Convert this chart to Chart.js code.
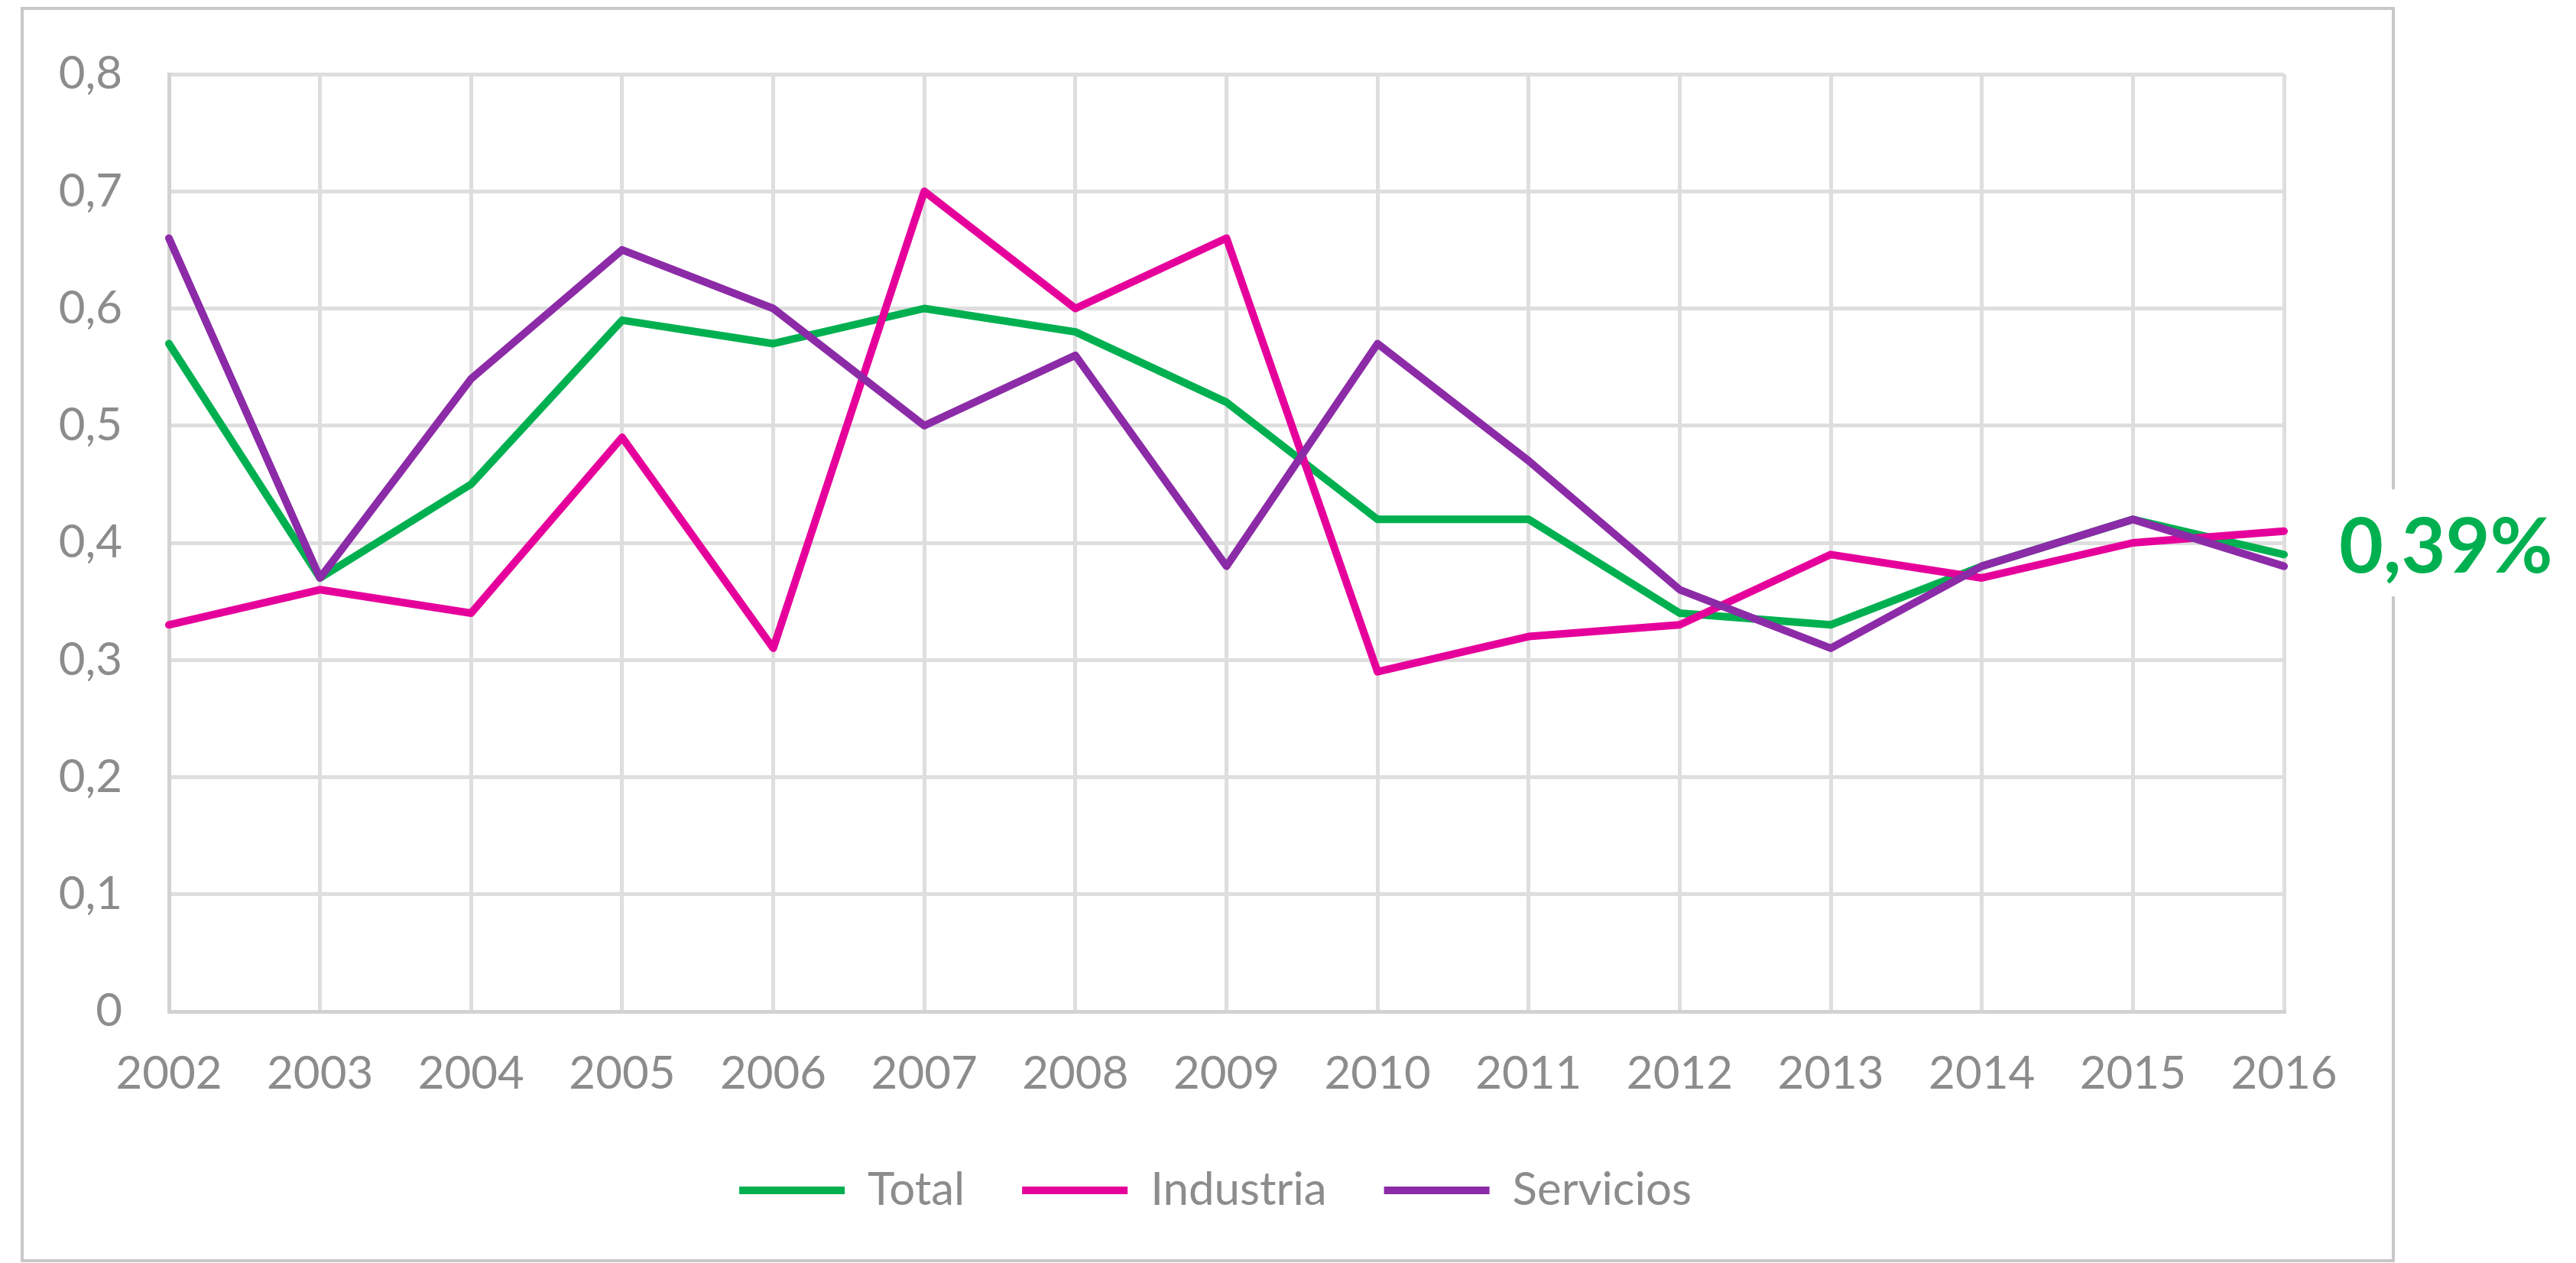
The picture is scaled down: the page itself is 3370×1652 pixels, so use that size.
<!DOCTYPE html>
<html lang="es">
<head>
<meta charset="utf-8">
<title>Total, Industria, Servicios 2002-2016</title>
<script src="https://cdn.jsdelivr.net/npm/chart.js"></script>
<style>
  html, body { margin: 0; padding: 0; background: #fff; }
  #wrap { position: relative; width: 3370px; height: 1652px; }
  #frame {
    position: absolute; left: 27px; top: 9px; width: 3106px; height: 1642px;
    box-sizing: border-box; border: 4px solid #c8c8c8; pointer-events: none;
  }
  #lastValue {
    position: absolute; left: 3048px; top: 640px; height: 140px; padding: 0 20px 0 12px;
    background: #fff; color: #00b050; font: 700 100px Lato, sans-serif; line-height: 140px;
  }
  canvas { position: absolute; left: 0; top: 0; }
</style>
</head>
<body>
<div id="wrap">
  <div id="frame"></div>
  <canvas id="chart" width="3370" height="1652"></canvas>
  <div id="lastValue"></div>
</div>
<script>
const years = ['2002', '2003', '2004', '2005', '2006', '2007', '2008', '2009', '2010', '2011', '2012', '2013', '2014', '2015', '2016'];
const total = [0.57, 0.37, 0.45, 0.59, 0.57, 0.60, 0.58, 0.52, 0.42, 0.42, 0.34, 0.33, 0.38, 0.42, 0.39];
const industria = [0.33, 0.36, 0.34, 0.49, 0.31, 0.70, 0.60, 0.66, 0.29, 0.32, 0.33, 0.39, 0.37, 0.40, 0.41];
const servicios = [0.66, 0.37, 0.54, 0.65, 0.60, 0.50, 0.56, 0.38, 0.57, 0.47, 0.36, 0.31, 0.38, 0.42, 0.38];
const seriesNames = ['Total', 'Industria', 'Servicios'];
const yMax = 0.8;
const yStep = 0.1;

const green = '#00b050';
const pink = '#e6009b';
const purple = '#8c2ba7';
const gray = '#8c8c8c';
const gridGray = '#dedede';

Chart.defaults.font.family = 'Lato, "Open Sans", sans-serif';
Chart.defaults.color = gray;

const fmt = v => v === 0 ? '0' : v.toFixed(1).replace('.', ',');

function line(label, data, color, order) {
  return {
    label,
    data,
    borderColor: color,
    backgroundColor: color,
    borderWidth: 10,
    borderCapStyle: 'round',
    borderJoinStyle: 'round',
    pointRadius: 0,
    tension: 0,
    order
  };
}

new Chart(document.getElementById('chart').getContext('2d'), {
  type: 'line',
  data: {
    labels: years,
    datasets: [
      line(seriesNames[0], total, green, 2),
      line(seriesNames[1], industria, pink, 1),
      line(seriesNames[2], servicios, purple, 0)
    ]
  },
  options: {
    responsive: false,
    animation: false,
    layout: {
      padding: { left: 0, top: 79, right: 190, bottom: 55 }
    },
    scales: {
      x: {
        grid: { color: gridGray, lineWidth: 5, drawTicks: false },
        border: { color: '#d2d2d2', width: 5 },
        ticks: { font: { size: 60 }, padding: 46, maxRotation: 0, minRotation: 0 },
        afterFit: scale => { scale.height = 129; }
      },
      y: {
        min: 0,
        max: yMax,
        grid: { color: gridGray, lineWidth: 5, drawTicks: false },
        border: { color: '#d2d2d2', width: 5 },
        ticks: { stepSize: yStep, font: { size: 60 }, padding: 61, callback: v => fmt(v) },
        afterFit: scale => { scale.width = 221; }
      },
      // empty spacer on the right so the plot ends before the value label
      spacer: {
        type: 'linear',
        position: 'right',
        grid: { display: false, drawTicks: false },
        border: { display: false },
        ticks: { display: false },
        afterFit: scale => { scale.width = 192; }
      }
    },
    plugins: {
      legend: {
        position: 'bottom',
        labels: {
          usePointStyle: true,
          pointStyle: 'line',
          pointStyleWidth: 138,
          font: { size: 60 },
          color: gray,
          padding: 75,
          sort: (a, b) => a.datasetIndex - b.datasetIndex
        }
      },
      tooltip: { enabled: false }
    }
  }
});

document.getElementById('lastValue').textContent =
  total[total.length - 1].toFixed(2).replace('.', ',') + '%';
</script>
</body>
</html>
